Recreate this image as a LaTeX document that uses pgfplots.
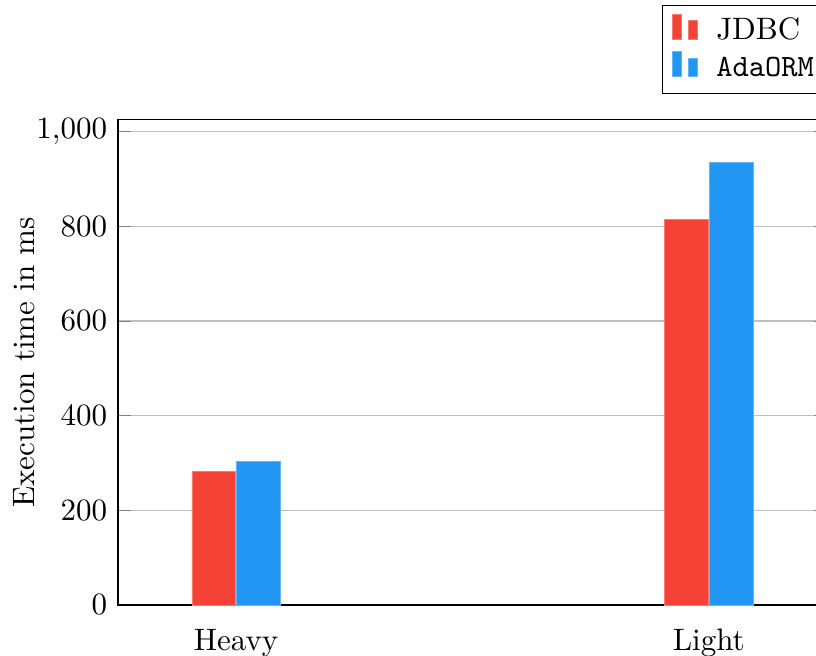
\documentclass[border=0pt]{standalone}
\usepackage{pgfplots}
\pgfplotsset{compat=1.18}

\definecolor{jdbcred}{HTML}{F44336}
\definecolor{ormblue}{HTML}{2196F3}

% bar pictogram with two separated bars
\pgfplotsset{
  splitbar legend/.style={
    legend image code/.code={
      \draw[##1,/tikz/.cd,yshift=-0.25em] (0pt,0pt) rectangle (3pt,0.8em);
      \draw[##1,/tikz/.cd,yshift=-0.25em] (5.3pt,0pt) rectangle (8.3pt,0.6em);
    }
  }
}

\begin{document}
\begin{tikzpicture}
\path[use as bounding box] (-38.06pt,-16.45pt) rectangle (225.16pt,195.16pt);
\clip (-38.06pt,-16.45pt) rectangle (225.16pt,195.16pt);
\begin{axis}[
  scale only axis,
  width=228.7pt, height=156.5pt,
  ybar=0.35pt,
  bar width=14.1pt,
  every axis plot post/.append style={splitbar legend},
  xmin=0, xmax=1,
  enlarge x limits=0.25,
  ymin=0, ymax=1025,
  xtick=data,
  xticklabels={Heavy, Light},
  xtick style={draw=none},
  ytick={0,200,400,600,800,1000},
  ymajorgrids,
  grid style={gray!50},
  ylabel={Execution time in ms},
  ylabel shift={-6.5pt},
  legend style={at={(1,1)}, anchor=south east, yshift=8.4pt, xshift=1pt,
    legend cell align=left, column sep=3.9pt},
]
\addplot[fill=jdbcred, draw=jdbcred!70!white, line width=0.2pt]
  coordinates {(0,282) (1,815)};
\addplot[fill=ormblue, draw=ormblue!70!white, line width=0.2pt]
  coordinates {(0,304) (1,935)};
\legend{JDBC, \texttt{AdaORM}}
\end{axis}
\end{tikzpicture}
\end{document}
